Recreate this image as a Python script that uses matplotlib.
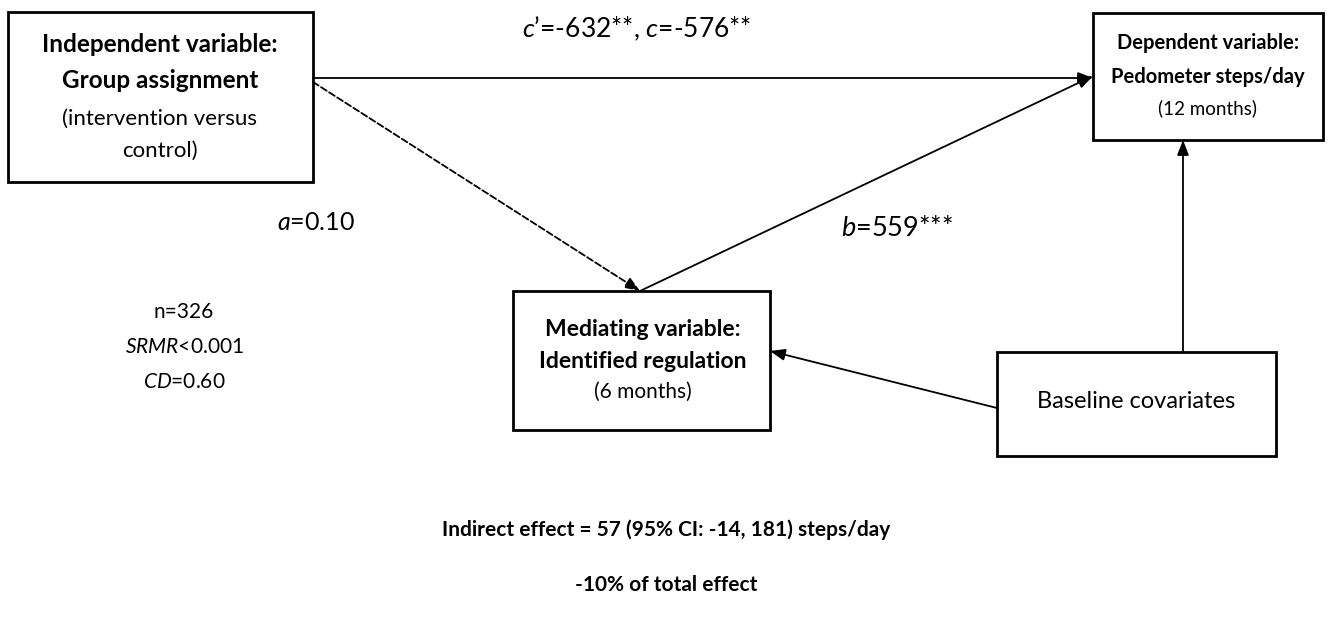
import matplotlib
matplotlib.use("Agg")
import matplotlib.pyplot as plt
from matplotlib.patches import Rectangle

plt.rcParams["font.family"] = ["Lato", "DejaVu Sans"]
plt.rcParams["mathtext.fontset"] = "custom"
plt.rcParams["mathtext.rm"] = "Lato"
plt.rcParams["mathtext.it"] = "Lato:italic"

# box texts: (bold lines, normal lines)
IV_BOLD = ["Independent variable:", "Group assignment"]
IV_NORM = ["(intervention versus", "control)"]
DV_BOLD = ["Dependent variable:", "Pedometer steps/day"]
DV_NORM = ["(12 months)"]
MED_BOLD = ["Mediating variable:", "Identified regulation"]
MED_NORM = ["(6 months)"]
COV_LABEL = "Baseline covariates"

PATH_C = r"$\mathit{c}$’=-632**, $\mathit{c}$=-576**"
PATH_A = r"$\mathit{a}$=0.10"
PATH_B = r"$\mathit{b}$=559***"
FIT_LINES = ["n=326", r"$\mathit{SRMR}$<0.001", r"$\mathit{CD}$=0.60"]
INDIRECT = "Indirect effect = 57 (95% CI: -14, 181) steps/day"
PCT_TOTAL = "-10% of total effect"

# box geometry in pixel coordinates (x0, y0, x1, y1)
boxes = {
    "iv": (8, 12, 313, 182),
    "dv": (1093, 13, 1323, 140),
    "med": (513, 291, 770, 430),
    "cov": (997, 352, 1276, 456),
}

fig = plt.figure(figsize=(13.33, 6.23), dpi=100)
ax = fig.add_axes([0, 0, 1, 1])
ax.set_xlim(0, 1333)
ax.set_ylim(623, 0)
ax.axis("off")

for x0, y0, x1, y1 in boxes.values():
    ax.add_patch(Rectangle((x0, y0), x1 - x0, y1 - y0, fill=False, lw=2, ec="black"))


def box_text(cx, ys, bold, normal, bsize, nsize):
    lines = [(t, "bold") for t in bold] + [(t, "normal") for t in normal]
    for y, (t, w) in zip(ys, lines):
        ax.text(cx, y, t, ha="center", va="center",
                fontsize=bsize if w == "bold" else nsize, fontweight=w)


box_text(160, [45, 81, 119, 151], IV_BOLD, IV_NORM, 17.5, 16)
box_text(1208, [43, 77, 108], DV_BOLD, DV_NORM, 14.5, 13.5)
box_text(643, [329, 362, 392], MED_BOLD, MED_NORM, 16.5, 15)
ax.text(1136, 401, COV_LABEL, ha="center", va="center", fontsize=17)


def arrow(p0, p1, ls="-"):
    ax.annotate("", xy=p1, xytext=p0,
                arrowprops=dict(arrowstyle="-|>,head_length=0.9,head_width=0.35",
                                lw=1.3, ls=ls, color="black", shrinkA=0, shrinkB=0))


arrow((313, 78), (1093, 78))
arrow((313, 82), (640, 291), ls="--")
arrow((640, 291), (1093, 76))
arrow((997, 408), (770, 351))
arrow((1183, 352), (1183, 140))

ax.text(637, 29, PATH_C, ha="center", va="center", fontsize=19)
ax.text(316, 222, PATH_A, ha="center", va="center", fontsize=18)
ax.text(897, 228, PATH_B, ha="center", va="center", fontsize=19.5)
for y, t in zip([312, 347, 382], FIT_LINES):
    ax.text(184, y, t, ha="center", va="center", fontsize=15)

ax.text(666, 530, INDIRECT, ha="center", va="center", fontsize=15, fontweight="bold")
ax.text(666, 585, PCT_TOTAL, ha="center", va="center", fontsize=15, fontweight="bold")

fig.savefig("out.png", dpi=100, facecolor="white")
